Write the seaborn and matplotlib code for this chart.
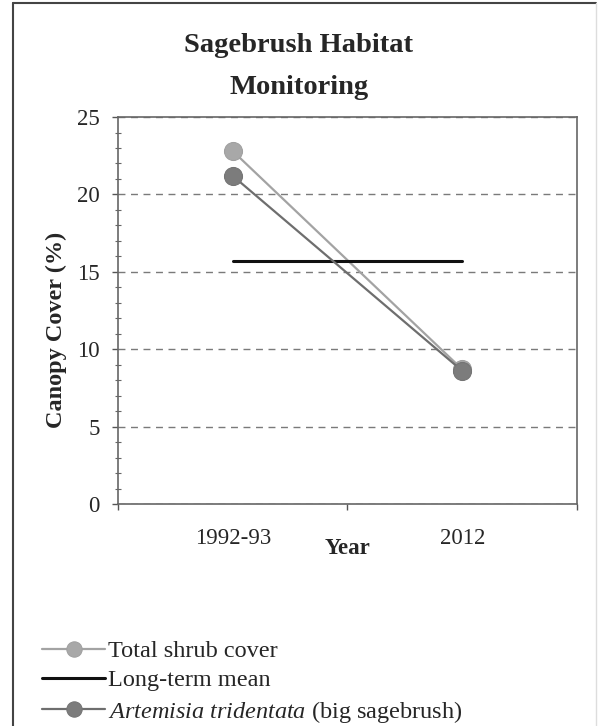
import pandas as pd
import matplotlib.pyplot as plt
import seaborn as sns
from matplotlib.ticker import MultipleLocator, FixedLocator, NullFormatter
from matplotlib.lines import Line2D

# data
years = ['1992-93', '2012']
total_shrub = [22.8, 8.7]
long_term_mean = [15.7, 15.7]
artemisia = [21.2, 8.6]

sns.set_style('ticks')
plt.rcParams['font.family'] = ['Liberation Serif', 'DejaVu Serif']
plt.rcParams['mathtext.fontset'] = 'custom'
plt.rcParams['mathtext.it'] = 'Liberation Serif:italic'
plt.rcParams['mathtext.rm'] = 'Liberation Serif'

df = pd.DataFrame({'year': years, 'total': total_shrub,
                   'mean': long_term_mean, 'art': artemisia})

fig = plt.figure(figsize=(5.98, 7.26), dpi=100)
ax = fig.add_axes([0.1973, 0.3058, 0.7676, 0.533])

sns.lineplot(data=df, x='year', y='total', ax=ax, color='#a3a3a3', lw=1.6,
             marker='o', markersize=13, markerfacecolor='#a8a8a8',
             markeredgecolor='#a0a0a0', label='Total shrub cover')
sns.lineplot(data=df, x='year', y='mean', ax=ax, color='#111111', lw=2.2,
             label='Long-term mean')
sns.lineplot(data=df, x='year', y='art', ax=ax, color='#6e6e6e', lw=1.6,
             marker='o', markersize=13, markerfacecolor='#7c7c7c',
             markeredgecolor='#747474',
             label=r'$\it{Artemisia\ tridentata}$ (big sagebrush)')

ax.set_xlim(-0.5, 1.5)
ax.set_ylim(0, 25)
ax.yaxis.set_major_locator(MultipleLocator(5))
ax.yaxis.set_minor_locator(MultipleLocator(1))
ax.yaxis.grid(True, which='major', linestyle=(0, (5, 4)), color='#7a7a7a', lw=1)
ax.set_axisbelow(True)

ax.xaxis.set_major_locator(FixedLocator([-0.5, 0.5, 1.5]))
ax.xaxis.set_major_formatter(NullFormatter())
ax.set_xticks([0, 1], labels=years, minor=True)
ax.tick_params(axis='x', which='minor', length=0, pad=17, labelsize=16.5)
ax.tick_params(axis='x', which='major', direction='out', length=4, width=1, color='#555555')
ax.tick_params(axis='y', which='major', direction='out', length=4, width=1,
               color='#555555', pad=9, labelsize=16.5)
ax.tick_params(axis='y', which='minor', direction='inout', length=4, width=0.8,
               color='#666666')

for s in ax.spines.values():
    s.set_color('#666666')
    s.set_linewidth(1.2)

ax.set_xlabel('Year', fontsize=16.5, fontweight='bold')
ax.xaxis.set_label_coords(0.5, -0.088)
ax.set_ylabel('Canopy Cover (%)', fontsize=17.5, fontweight='bold')
ax.yaxis.set_label_coords(-0.112, 0.45)

fig.text(0.5, 1 - 45 / 726, 'Sagebrush Habitat', ha='center', va='center',
         fontsize=20.5, fontweight='bold')
fig.text(0.5, 1 - 88 / 726, 'Monitoring', ha='center', va='center',
         fontsize=20.5, fontweight='bold')

handles, labels = ax.get_legend_handles_labels()
ax.get_legend().remove()
fig.legend(handles, labels, loc='upper left', bbox_to_anchor=(42 / 598, 1 - 640 / 726),
           frameon=False, fontsize=17.5, borderpad=0, borderaxespad=0,
           handlelength=2.6, handletextpad=0.1, labelspacing=0.3, markerscale=0.85)

# outer chart border (left, top, faint right)
fig.add_artist(Line2D([13 / 598, 13 / 598], [0, 1 - 3 / 726], transform=fig.transFigure,
                      color='#444444', lw=1.5))
fig.add_artist(Line2D([13 / 598, 596 / 598], [1 - 3 / 726, 1 - 3 / 726],
                      transform=fig.transFigure, color='#444444', lw=1.5))
fig.add_artist(Line2D([596 / 598, 596 / 598], [0, 1 - 3 / 726], transform=fig.transFigure,
                      color='#dddddd', lw=1))

fig.savefig('out.png', dpi=100)
